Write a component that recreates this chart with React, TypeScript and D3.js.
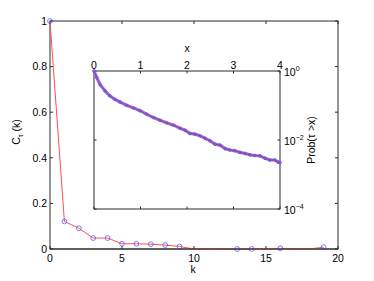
import React from 'react';
import * as d3 from 'd3';

// Main chart: correlation C_tau(k) vs lag k
const lags = [0, 1, 2, 3, 4, 5, 6, 7, 8, 9, 10, 11, 12, 13, 14, 15, 16, 17, 18, 19];
const corrValues = [1, 0.121, 0.091, 0.048, 0.048, 0.023, 0.023, 0.021, 0.017, 0.011, 0, 0, 0, 0, 0, 0, 0.003, 0, 0, 0.008];
const markerLags = [0, 1, 2, 3, 4, 5, 6, 7, 8, 9, 13, 14, 16, 19];
const xTicks = [0, 5, 10, 15, 20];
const yTicks = [0, 0.2, 0.4, 0.6, 0.8, 1];

// Inset: survival function Prob(tau > x)
const insetX = [0, 0.06, 0.13, 0.24, 0.34, 0.45, 0.56, 0.7, 0.85, 0.99, 1.13, 1.28, 1.42, 1.56, 1.71, 1.85, 1.96,
  2.06, 2.17, 2.28, 2.39, 2.49, 2.6, 2.71, 2.82, 2.92, 3.03, 3.14, 3.25, 3.35, 3.46, 3.57, 3.68, 3.78, 3.89, 3.96, 4.0];
const insetP = [1, 0.646, 0.407, 0.263, 0.191, 0.151, 0.126, 0.102, 0.0851, 0.0708, 0.0562, 0.0447, 0.0372, 0.0316,
  0.0269, 0.0219, 0.0191, 0.0155, 0.0148, 0.0132, 0.0112, 0.00955, 0.00759, 0.00708, 0.00562, 0.00513, 0.0049,
  0.00437, 0.00407, 0.00372, 0.00355, 0.00347, 0.00295, 0.00263, 0.00263, 0.00229, 0.00219];
const insetXTicks = [0, 1, 2, 3, 4];
const insetYTicks = [{ v: 1, exp: '0' }, { v: 1e-2, exp: '−2' }, { v: 1e-4, exp: '−4' }];

const FONT = 'Liberation Sans, Arial, sans-serif';
const AXIS = '#2b2b2b';

const App = () => {
  const width = 374;
  const height = 281;

  const x = d3.scaleLinear().domain([0, 20]).range([50, 338]);
  const y = d3.scaleLinear().domain([0, 1]).range([249, 21]);

  const ix = d3.scaleLinear().domain([0, 4]).range([94, 280]);
  const iy = d3.scaleLog().domain([1e-4, 1]).range([209, 71]);

  const mainLine = d3.line<number>()
    .x((d, i) => x(lags[i]))
    .y(d => y(d))(corrValues);

  const insetPts = insetX.map((v, i) => [v, insetP[i]] as [number, number]);
  const insetLine = d3.line<[number, number]>()
    .x(d => ix(d[0]))
    .y(d => iy(d[1]))(insetPts);

  const fmt = (v: number) => (v === 0 || v === 1 ? String(v) : v.toFixed(1));

  return (
    <svg width={width} height={height} style={{ position: 'absolute', left: 0, top: 0, background: '#fff' }}
      fontFamily={FONT} fontSize={10.5}>
      {/* main axes box */}
      <rect x={x(0)} y={y(1)} width={x(20) - x(0)} height={y(0) - y(1)} fill="#fff" stroke={AXIS} strokeWidth={1} />
      {xTicks.map(t => (
        <g key={'x' + t}>
          <line x1={x(t)} x2={x(t)} y1={y(0)} y2={y(0) - 3} stroke={AXIS} />
          <line x1={x(t)} x2={x(t)} y1={y(1)} y2={y(1) + 3} stroke={AXIS} />
          <text x={x(t)} y={261.5} textAnchor="middle" fill="#000">{t}</text>
        </g>
      ))}
      {yTicks.map(t => (
        <g key={'y' + t}>
          <line x1={x(0)} x2={x(0) + 3} y1={y(t)} y2={y(t)} stroke={AXIS} />
          <line x1={x(20)} x2={x(20) - 3} y1={y(t)} y2={y(t)} stroke={AXIS} />
          <text x={47} y={y(t) + 3.8} textAnchor="end" fill="#000">{fmt(t)}</text>
        </g>
      ))}
      <text x={193} y={273} textAnchor="middle">k</text>
      <text transform="translate(20,132) rotate(-90)" textAnchor="middle">
        C<tspan fontSize={7} dy={3}>τ</tspan><tspan dy={-3}> (k)</tspan>
      </text>

      {/* main data */}
      <path d={mainLine || ''} fill="none" stroke="#ff5050" strokeWidth={1} />
      {markerLags.map(k => (
        <circle key={'m' + k} cx={x(k)} cy={y(corrValues[k])} r={2.4} fill="none" stroke="#5a5aff" strokeWidth={0.8} />
      ))}
      {/* redraw baseline over zero-valued line segments */}
      <line x1={x(0)} x2={x(20)} y1={y(0)} y2={y(0)} stroke={AXIS} strokeWidth={1} />

      {/* inset */}
      <rect x={ix(0)} y={iy(1)} width={ix(4) - ix(0)} height={iy(1e-4) - iy(1)} fill="#fff" stroke={AXIS} strokeWidth={1} />
      {insetXTicks.map(t => (
        <g key={'ix' + t}>
          <line x1={ix(t)} x2={ix(t)} y1={iy(1)} y2={iy(1) + 2.5} stroke={AXIS} />
          <line x1={ix(t)} x2={ix(t)} y1={iy(1e-4)} y2={iy(1e-4) - 2.5} stroke={AXIS} />
          <text x={ix(t)} y={68.5} textAnchor="middle">{t}</text>
        </g>
      ))}
      {insetYTicks.map(t => (
        <g key={'iy' + t.exp}>
          <line x1={ix(0)} x2={ix(0) + 2.5} y1={iy(t.v)} y2={iy(t.v)} stroke={AXIS} />
          <line x1={ix(4)} x2={ix(4) - 2.5} y1={iy(t.v)} y2={iy(t.v)} stroke={AXIS} />
          <text x={284} y={iy(t.v) + 5}>
            10<tspan fontSize={7} dy={-5}>{t.exp}</tspan>
          </text>
        </g>
      ))}
      <text x={187} y={52} textAnchor="middle">x</text>
      <text transform="translate(315,140) rotate(-90)" textAnchor="middle">Prob(τ &gt;x)</text>

      <path d={insetLine || ''} fill="none" stroke="#7f7fff" strokeWidth={3.2} strokeLinejoin="round" strokeLinecap="round" />
      {insetPts.map((p, i) => (
        <circle key={'ip' + i} cx={ix(p[0])} cy={iy(p[1])} r={1.4} fill="none" stroke="#5050ff" strokeWidth={0.7} />
      ))}
      <path d={insetLine || ''} fill="none" stroke="#e0203a" strokeWidth={0.9} />
    </svg>
  );
};

export default App;
